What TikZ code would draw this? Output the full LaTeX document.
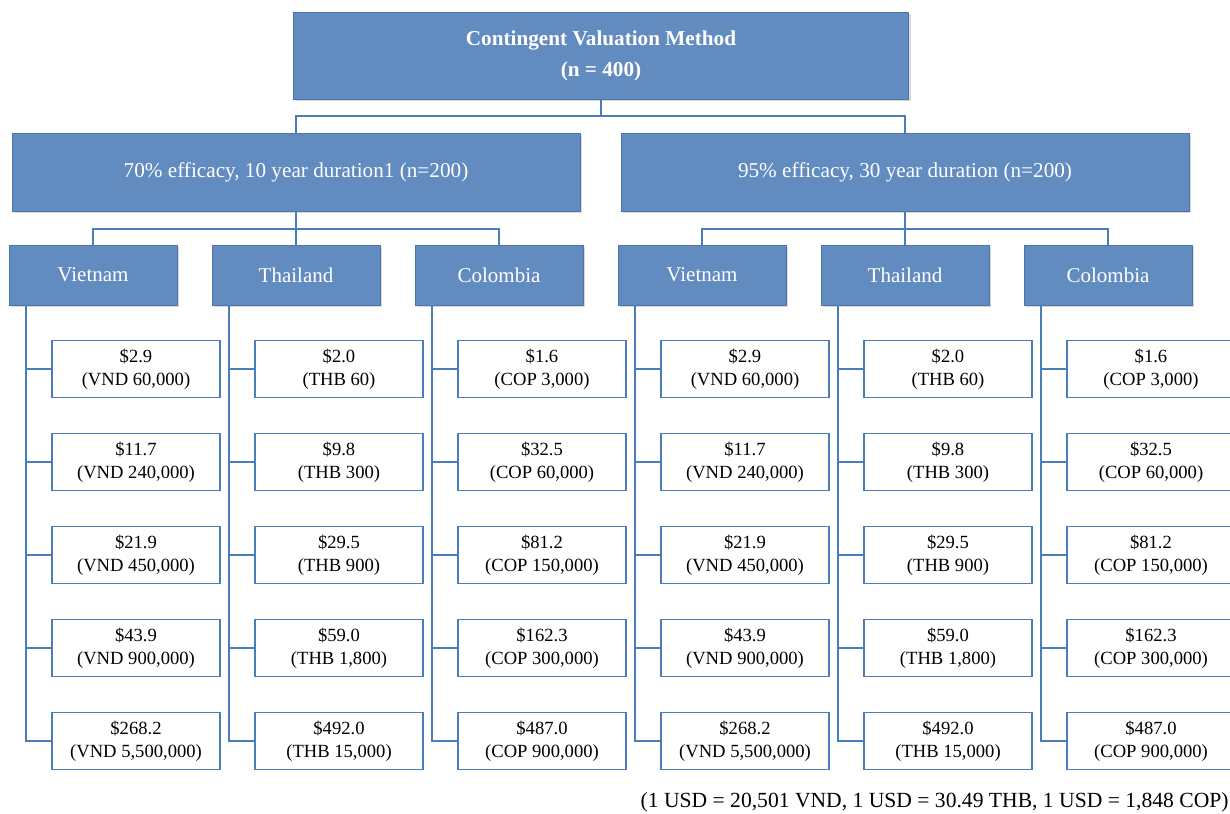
\documentclass[tikz,border=0pt]{standalone}
\usepackage{fontspec}
\setmainfont{Liberation Serif}
\usetikzlibrary{shadows}
\definecolor{boxblue}{RGB}{98,139,192}
\definecolor{edgeblue}{RGB}{76,116,174}
\definecolor{lineblue}{RGB}{74,126,187}
\tikzstyle{method} = [rectangle, minimum width=307.5pt, minimum height=43.5pt, inner sep=0pt, align=center, draw=edgeblue, fill=boxblue, text=white, font=\fontsize{10.6}{15.5}\selectfont\bfseries, drop shadow={shadow xshift=1pt, shadow yshift=-1pt, opacity=0.3}]
\tikzstyle{arm} = [rectangle, minimum width=284pt, minimum height=39pt, inner sep=0pt, text centered, draw=edgeblue, fill=boxblue, text=white, font=\fontsize{10.6}{13}\selectfont, drop shadow={shadow xshift=1pt, shadow yshift=-1pt, opacity=0.3}]
\tikzstyle{country} = [rectangle, minimum width=84pt, minimum height=30pt, inner sep=0pt, text centered, draw=edgeblue, fill=boxblue, text=white, font=\fontsize{10.5}{13}\selectfont, drop shadow={shadow xshift=1pt, shadow yshift=-1pt, opacity=0.3}]
\tikzstyle{price} = [rectangle, minimum width=84pt, minimum height=28.5pt, inner sep=0pt, align=center, draw=lineblue, line width=0.8pt, fill=white, font=\fontsize{9.3}{11.5}\selectfont]
\tikzstyle{link} = [lineblue, line width=0.9pt]

\begin{document}
\begin{tikzpicture}[x=0.5pt, y=-0.5pt, node distance=46.5pt]
\useasboundingbox (0,0) rectangle (1230,813);

\node (cvm) [method] at (601,56) {Contingent Valuation Method\\(n = 400)};

\node (armA) [arm] at (296,172) {70\% efficacy, 10 year duration1 (n=200)};
\node (armB) [arm] at (905,172) {95\% efficacy, 30 year duration (n=200)};

\node (vnA) [country] at (93,275) {Vietnam};
\node (thA) [country] at (296,275) {Thailand};
\node (coA) [country] at (499,275) {Colombia};
\node (vnB) [country] at (702,275) {Vietnam};
\node (thB) [country] at (905,275) {Thailand};
\node (coB) [country] at (1108,275) {Colombia};

% prices, first arm
\node (vnA1) [price, below of=vnA, xshift=21.5pt, yshift=-0.5pt] {\$2.9\\(VND 60,000)};
\node (vnA2) [price, below of=vnA1] {\$11.7\\(VND 240,000)};
\node (vnA3) [price, below of=vnA2] {\$21.9\\(VND 450,000)};
\node (vnA4) [price, below of=vnA3] {\$43.9\\(VND 900,000)};
\node (vnA5) [price, below of=vnA4] {\$268.2\\(VND 5,500,000)};

\node (thA1) [price, below of=thA, xshift=21.5pt, yshift=-0.5pt] {\$2.0\\(THB 60)};
\node (thA2) [price, below of=thA1] {\$9.8\\(THB 300)};
\node (thA3) [price, below of=thA2] {\$29.5\\(THB 900)};
\node (thA4) [price, below of=thA3] {\$59.0\\(THB 1,800)};
\node (thA5) [price, below of=thA4] {\$492.0\\(THB 15,000)};

\node (coA1) [price, below of=coA, xshift=21.5pt, yshift=-0.5pt] {\$1.6\\(COP 3,000)};
\node (coA2) [price, below of=coA1] {\$32.5\\(COP 60,000)};
\node (coA3) [price, below of=coA2] {\$81.2\\(COP 150,000)};
\node (coA4) [price, below of=coA3] {\$162.3\\(COP 300,000)};
\node (coA5) [price, below of=coA4] {\$487.0\\(COP 900,000)};

% prices, second arm
\node (vnB1) [price, below of=vnB, xshift=21.5pt, yshift=-0.5pt] {\$2.9\\(VND 60,000)};
\node (vnB2) [price, below of=vnB1] {\$11.7\\(VND 240,000)};
\node (vnB3) [price, below of=vnB2] {\$21.9\\(VND 450,000)};
\node (vnB4) [price, below of=vnB3] {\$43.9\\(VND 900,000)};
\node (vnB5) [price, below of=vnB4] {\$268.2\\(VND 5,500,000)};

\node (thB1) [price, below of=thB, xshift=21.5pt, yshift=-0.5pt] {\$2.0\\(THB 60)};
\node (thB2) [price, below of=thB1] {\$9.8\\(THB 300)};
\node (thB3) [price, below of=thB2] {\$29.5\\(THB 900)};
\node (thB4) [price, below of=thB3] {\$59.0\\(THB 1,800)};
\node (thB5) [price, below of=thB4] {\$492.0\\(THB 15,000)};

\node (coB1) [price, below of=coB, xshift=21.5pt, yshift=-0.5pt] {\$1.6\\(COP 3,000)};
\node (coB2) [price, below of=coB1] {\$32.5\\(COP 60,000)};
\node (coB3) [price, below of=coB2] {\$81.2\\(COP 150,000)};
\node (coB4) [price, below of=coB3] {\$162.3\\(COP 300,000)};
\node (coB5) [price, below of=coB4] {\$487.0\\(COP 900,000)};

\node (rates) [anchor=east, inner sep=0pt, font=\fontsize{10.8}{13}\selectfont] at (1229,802) {(1 USD = 20,501 VND, 1 USD = 30.49 THB, 1 USD = 1,848 COP)};

% tree lines
\coordinate (bus0) at (601,116);
\coordinate (busA) at (296,229);
\coordinate (busB) at (905,229);

\draw [link] (cvm.south) -- (bus0);
\draw [link] (armA.north) |- (bus0) -| (armB.north);

\draw [link] (armA.south) -- (thA.north);
\draw [link] (vnA.north) |- (busA) -| (coA.north);
\draw [link] (armB.south) -- (thB.north);
\draw [link] (vnB.north) |- (busB) -| (coB.north);

\draw [link] ([xshift=-33.5pt]vnA.south) |- (vnA1.west);
\draw [link] ([xshift=-33.5pt]vnA.south) |- (vnA2.west);
\draw [link] ([xshift=-33.5pt]vnA.south) |- (vnA3.west);
\draw [link] ([xshift=-33.5pt]vnA.south) |- (vnA4.west);
\draw [link] ([xshift=-33.5pt]vnA.south) |- (vnA5.west);

\draw [link] ([xshift=-33.5pt]thA.south) |- (thA1.west);
\draw [link] ([xshift=-33.5pt]thA.south) |- (thA2.west);
\draw [link] ([xshift=-33.5pt]thA.south) |- (thA3.west);
\draw [link] ([xshift=-33.5pt]thA.south) |- (thA4.west);
\draw [link] ([xshift=-33.5pt]thA.south) |- (thA5.west);

\draw [link] ([xshift=-33.5pt]coA.south) |- (coA1.west);
\draw [link] ([xshift=-33.5pt]coA.south) |- (coA2.west);
\draw [link] ([xshift=-33.5pt]coA.south) |- (coA3.west);
\draw [link] ([xshift=-33.5pt]coA.south) |- (coA4.west);
\draw [link] ([xshift=-33.5pt]coA.south) |- (coA5.west);

\draw [link] ([xshift=-33.5pt]vnB.south) |- (vnB1.west);
\draw [link] ([xshift=-33.5pt]vnB.south) |- (vnB2.west);
\draw [link] ([xshift=-33.5pt]vnB.south) |- (vnB3.west);
\draw [link] ([xshift=-33.5pt]vnB.south) |- (vnB4.west);
\draw [link] ([xshift=-33.5pt]vnB.south) |- (vnB5.west);

\draw [link] ([xshift=-33.5pt]thB.south) |- (thB1.west);
\draw [link] ([xshift=-33.5pt]thB.south) |- (thB2.west);
\draw [link] ([xshift=-33.5pt]thB.south) |- (thB3.west);
\draw [link] ([xshift=-33.5pt]thB.south) |- (thB4.west);
\draw [link] ([xshift=-33.5pt]thB.south) |- (thB5.west);

\draw [link] ([xshift=-33.5pt]coB.south) |- (coB1.west);
\draw [link] ([xshift=-33.5pt]coB.south) |- (coB2.west);
\draw [link] ([xshift=-33.5pt]coB.south) |- (coB3.west);
\draw [link] ([xshift=-33.5pt]coB.south) |- (coB4.west);
\draw [link] ([xshift=-33.5pt]coB.south) |- (coB5.west);

\end{tikzpicture}
\end{document}
